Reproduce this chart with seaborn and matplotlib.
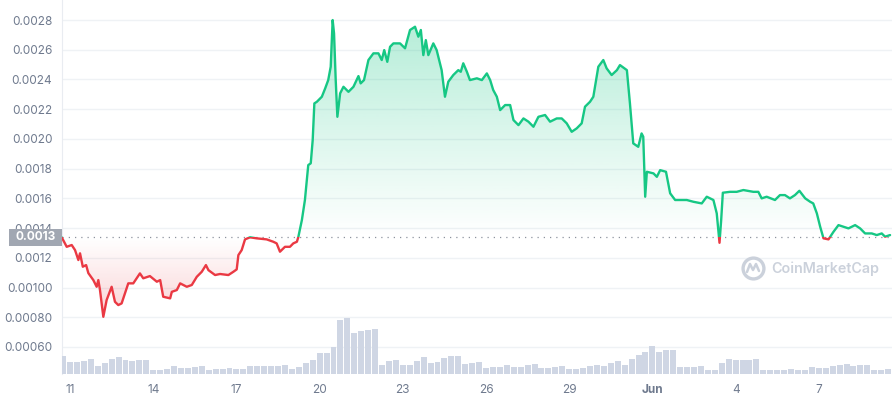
import numpy as np
import matplotlib
matplotlib.use("Agg")
import matplotlib.pyplot as plt
import matplotlib.transforms as mtransforms
from matplotlib.patches import Rectangle
from matplotlib.path import Path
import seaborn as sns

# price (days after May 11)
days = [-0.30, -0.12, 0.06, 0.18, 0.30, 0.36, 0.46, 0.58, 0.66, 0.84,
        0.96, 1.02, 1.08, 1.20, 1.32, 1.50, 1.62, 1.74, 1.86, 1.98,
        2.10, 2.28, 2.52, 2.64, 2.88, 3.13, 3.25, 3.36, 3.61, 3.67,
        3.85, 3.97, 4.21, 4.39, 4.57, 4.75, 4.90, 4.99, 5.23, 5.41,
        5.71, 5.89, 6.01, 6.07, 6.19, 6.31, 6.49, 6.73, 7.09, 7.33,
        7.45, 7.57, 7.75, 7.93, 8.05, 8.18, 8.23, 8.36, 8.47, 8.59,
        8.68, 8.75, 8.81, 8.90, 9.08, 9.20, 9.31, 9.40, 9.47, 9.52,
        9.58, 9.64, 9.74, 9.86, 10.04, 10.22, 10.40, 10.48, 10.60, 10.76,
        10.94, 11.12, 11.24, 11.33, 11.44, 11.54, 11.66, 11.90, 12.08, 12.26,
        12.44, 12.56, 12.65, 12.74, 12.83, 12.92, 13.10, 13.22, 13.40, 13.52,
        13.64, 13.82, 14.00, 14.09, 14.18, 14.31, 14.42, 14.67, 14.85, 15.03,
        15.15, 15.26, 15.39, 15.51, 15.69, 15.87, 15.99, 16.17, 16.35, 16.53,
        16.71, 16.89, 17.13, 17.31, 17.55, 17.73, 17.91, 18.09, 18.27, 18.45,
        18.57, 18.75, 18.87, 19.05, 19.23, 19.35, 19.53, 19.72, 19.83, 20.08,
        20.19, 20.31, 20.49, 20.61, 20.67, 20.74, 20.80, 21.04, 21.16, 21.28,
        21.49, 21.64, 21.82, 22.00, 22.24, 22.48, 22.78, 22.96, 23.20, 23.32,
        23.42, 23.48, 23.54, 23.80, 24.04, 24.28, 24.64, 24.82, 24.94, 25.12,
        25.42, 25.60, 25.78, 25.96, 26.14, 26.30, 26.51, 26.69, 26.80, 26.93,
        27.05, 27.17, 27.35, 27.53, 27.71, 27.89, 28.07, 28.31, 28.49, 28.67,
        28.91, 29.09, 29.27, 29.39, 29.57]
price = [0.001338, 0.001274, 0.001286, 0.001252, 0.001185, 0.001230, 0.001140, 0.001151, 0.001097, 0.001050,
         0.001005, 0.001050, 0.000983, 0.000803, 0.000916, 0.001005, 0.000904, 0.000882, 0.000893, 0.000961,
         0.001028, 0.001028, 0.001095, 0.001062, 0.001077, 0.001039, 0.001050, 0.000938, 0.000927, 0.000971,
         0.000983, 0.001028, 0.001005, 0.001017, 0.001072, 0.001106, 0.001151, 0.001117, 0.001084, 0.001091,
         0.001084, 0.001106, 0.001122, 0.001218, 0.001252, 0.001324, 0.001338, 0.001331, 0.001324, 0.001308,
         0.001297, 0.001241, 0.001274, 0.001274, 0.001297, 0.001308, 0.001338, 0.001454, 0.001589, 0.001824,
         0.001836, 0.001992, 0.002239, 0.002250, 0.002284, 0.002340, 0.002396, 0.002486, 0.002800, 0.002710,
         0.002396, 0.002149, 0.002307, 0.002351, 0.002317, 0.002351, 0.002423, 0.002374, 0.002396, 0.002531,
         0.002576, 0.002576, 0.002531, 0.002598, 0.002519, 0.002620, 0.002643, 0.002643, 0.002610, 0.002733,
         0.002755, 0.002688, 0.002733, 0.002564, 0.002665, 0.002564, 0.002643, 0.002598, 0.002463, 0.002284,
         0.002385, 0.002430, 0.002463, 0.002452, 0.002509, 0.002452, 0.002396, 0.002408, 0.002396, 0.002441,
         0.002396, 0.002329, 0.002284, 0.002194, 0.002228, 0.002228, 0.002127, 0.002093, 0.002138, 0.002116,
         0.002082, 0.002149, 0.002161, 0.002116, 0.002138, 0.002138, 0.002105, 0.002048, 0.002071, 0.002105,
         0.002217, 0.002250, 0.002284, 0.002486, 0.002531, 0.002475, 0.002430, 0.002463, 0.002497, 0.002463,
         0.002239, 0.001970, 0.001947, 0.002037, 0.002015, 0.001611, 0.001779, 0.001768, 0.001745, 0.001790,
         0.001779, 0.001634, 0.001589, 0.001589, 0.001589, 0.001577, 0.001566, 0.001611, 0.001589, 0.001499,
         0.001301, 0.001454, 0.001638, 0.001644, 0.001644, 0.001656, 0.001644, 0.001644, 0.001600, 0.001611,
         0.001589, 0.001622, 0.001622, 0.001600, 0.001622, 0.001651, 0.001600, 0.001577, 0.001566, 0.001499,
         0.001409, 0.001331, 0.001324, 0.001375, 0.001420, 0.001409, 0.001398, 0.001420, 0.001398, 0.001364,
         0.001364, 0.001353, 0.001364, 0.001342, 0.001353]

# 6-hourly volume (arbitrary units, M)
volume = [1.83, 1.17, 1.2, 1.33, 1.47, 0.8, 1.1, 1.47, 1.67, 1.4,
          1.3, 1.4, 1.4, 0.4, 0.4, 0.53, 0.8, 0.6, 0.6, 0.67,
          0.8, 0.4, 0.53, 0.53, 0.6, 0.5, 0.5, 0.8, 0.8, 0.8,
          0.8, 0.8, 0.9, 0.5, 0.7, 1.1, 1.4, 2.1, 2.1, 2.7,
          5.4, 5.6, 4.1, 4.27, 4.4, 4.5, 0.93, 1.27, 1.4, 0.93,
          0.93, 1.33, 1.67, 1.13, 1.2, 1.57, 1.8, 1.8, 1.0, 1.13,
          1.2, 0.57, 0.73, 0.73, 0.93, 0.73, 0.73, 0.9, 1.0, 0.6,
          0.6, 0.67, 0.8, 0.5, 0.5, 0.6, 0.8, 0.87, 0.83, 1.07,
          1.27, 0.93, 1.47, 1.9, 2.2, 2.8, 2.23, 2.4, 2.4, 0.67,
          0.73, 0.73, 0.8, 0.4, 0.4, 1.07, 1.5, 1.4, 1.4, 1.4,
          1.5, 0.4, 0.4, 0.4, 0.4, 0.5, 0.4, 0.4, 0.7, 0.6,
          0.6, 0.8, 0.93, 1.0, 0.8, 0.9, 0.9, 0.4, 0.4, 0.5]
vol_days = np.arange(len(volume)) * 0.25 - 0.25

tick_days = [0, 3, 6, 9, 12, 15, 18, 21, 24, 27]
tick_labels = ["11", "14", "17", "20", "23", "26", "29", "Jun", "4", "7"]
ytick_vals = [0.0006, 0.0008, 0.0010, 0.0012, 0.0014, 0.0016, 0.0018,
              0.0020, 0.0022, 0.0024, 0.0026, 0.0028]
ytick_labels = ["0.00060", "0.00080", "0.00100", "0.0012", "0.0014", "0.0016",
                "0.0018", "0.0020", "0.0022", "0.0024", "0.0026", "0.0028"]

GREEN = "#16c784"
RED = "#ea3943"
GREY_TXT = "#6f7a8e"
WM = "#cbd1db"

sns.set_style("white")
plt.rcParams["font.family"] = ["Inter", "DejaVu Sans"]

t = np.array(days)
p = np.array(price)
base = p[0]
xlim = (-0.29, 29.64)
ylim = (0.000418, 0.002935)

fig = plt.figure(figsize=(8.92, 4.0), dpi=100)
ax = fig.add_axes([62 / 892, 26 / 400, 830 / 892, 374 / 400])

# gradient fills
up = ax.fill_between(t, p, base, where=p >= base, interpolate=True, color="none")
dn = ax.fill_between(t, p, base, where=p <= base, interpolate=True, color="none")

g = np.zeros((256, 1, 4))
g[..., :3] = matplotlib.colors.to_rgb(GREEN)
g[:, 0, 3] = np.linspace(0.0, 0.32, 256)
im_g = ax.imshow(g, extent=[xlim[0], xlim[1], base, p.max()], aspect="auto",
                 origin="lower", zorder=1)
im_g.set_clip_path(Path.make_compound_path(*up.get_paths()), ax.transData)

r = np.zeros((256, 1, 4))
r[..., :3] = matplotlib.colors.to_rgb(RED)
r[:, 0, 3] = np.linspace(0.22, 0.0, 256)
im_r = ax.imshow(r, extent=[xlim[0], xlim[1], p.min(), base], aspect="auto",
                 origin="lower", zorder=1)
im_r.set_clip_path(Path.make_compound_path(*dn.get_paths()), ax.transData)

# price line, green above open / red below
sns.lineplot(x=t, y=p, ax=ax, color=GREEN, lw=1.7, zorder=3)
ax.lines[-1].set_clip_path(Rectangle((-5, base), 50, 1, transform=ax.transData))
sns.lineplot(x=t, y=p, ax=ax, color=RED, lw=1.7, zorder=3)
ax.lines[-1].set_clip_path(Rectangle((-5, base - 1), 50, 1, transform=ax.transData))

ax.axhline(base, color="#8d939e", lw=0.9, ls=(0, (1, 4)), zorder=2)

ax.set_xlim(*xlim)
ax.set_ylim(*ylim)
ax.set_yticks(ytick_vals)
ax.set_yticklabels(ytick_labels)
ax.set_xticks(tick_days)
ax.set_xticklabels(tick_labels)
for lab in ax.get_xticklabels():
    if lab.get_text() == "Jun":
        lab.set_fontweight("bold")
ax.grid(axis="y", color="#eff2f5", lw=1)
ax.tick_params(axis="y", length=0, pad=7, labelsize=8.5, labelcolor=GREY_TXT)
ax.tick_params(axis="x", length=3, width=1, color="#7d8697", pad=4,
               labelsize=8.5, labelcolor=GREY_TXT)
for s in ["top", "right", "bottom"]:
    ax.spines[s].set_visible(False)
ax.spines["left"].set_color("#e9ecf1")
ax.set_xlabel("")
ax.set_ylabel("")

# open price tag
tr = mtransforms.blended_transform_factory(ax.transAxes, ax.transData)
half = 8.5 * (ylim[1] - ylim[0]) / 374
ax.add_patch(Rectangle((-53 / 830, base - half), 53 / 830, 2 * half, transform=tr,
                       facecolor="#a1a7b2", edgecolor="none", clip_on=False, zorder=5))
ax.text(-26.5 / 830, base, "0.0013", transform=tr, ha="center", va="center",
        color="white", fontsize=8.5, fontweight="bold", zorder=6)

# watermark
cx, cy = (753 - 62) / 830, (374 - 268) / 374
ax.plot([cx], [cy], marker="o", ms=15, mfc="none", mec=WM, mew=2.4,
        transform=ax.transAxes)
mx = np.array([-6, -3, 0, 3, 6]) / 830
my = np.array([-4, 4, -2, 4, -3]) / 374
ax.plot(cx + mx, cy + my, color=WM, lw=1.8, solid_joinstyle="round",
        transform=ax.transAxes)
ax.text((771 - 62) / 830, (374 - 269) / 374, "CoinMarketCap", transform=ax.transAxes,
        ha="left", va="center", fontsize=10.3, fontweight="semibold", color=WM)

# volume bars
ax_vol = ax.twinx()
ax_vol.bar(vol_days, volume, width=0.215, color="#cfd6e4", linewidth=0, align="center")
ax_vol.set_ylim(0, 37.4)
ax_vol.set_xlim(*xlim)
ax_vol.set_axis_off()

fig.savefig("out.png", dpi=100)
